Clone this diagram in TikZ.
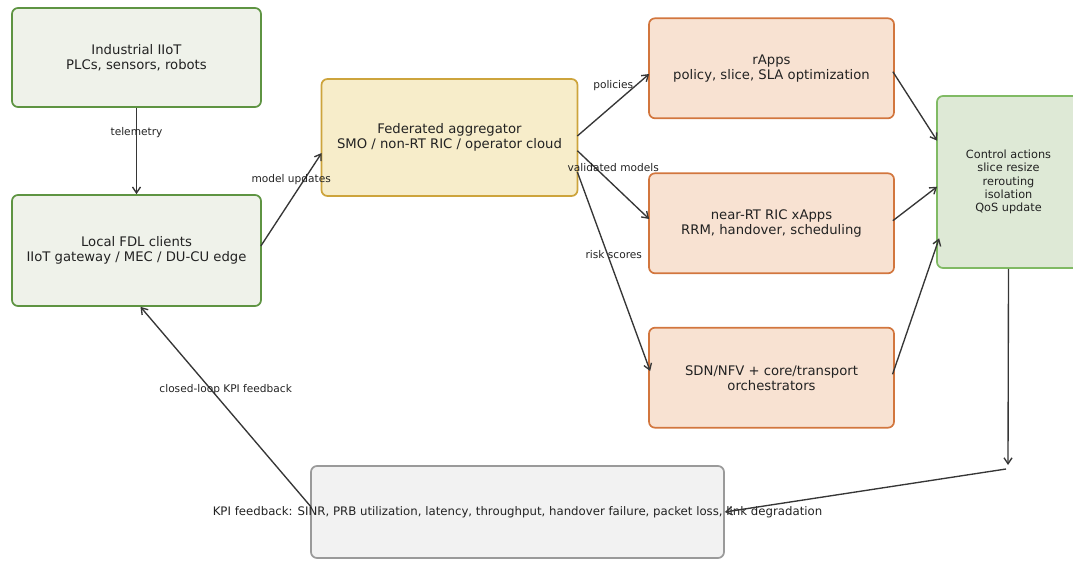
\documentclass[tikz,border=0pt]{standalone}
\usepackage{fontspec}
\setmainfont{DejaVu Sans}
\usetikzlibrary{arrows.meta,calc}
\definecolor{txt}{HTML}{222222}
\definecolor{arr}{HTML}{363636}
\definecolor{gfill}{HTML}{EFF2EA}
\definecolor{gdraw}{HTML}{5E9442}
\definecolor{yfill}{HTML}{F7EDCA}
\definecolor{ydraw}{HTML}{CDA43C}
\definecolor{ofill}{HTML}{F8E2D2}
\definecolor{odraw}{HTML}{D2763E}
\definecolor{cfill}{HTML}{DEE9D6}
\definecolor{cdraw}{HTML}{80BA64}
\definecolor{kfill}{HTML}{F2F2F2}
\definecolor{kdraw}{HTML}{9A9A9A}
\tikzset{
  box/.style={rectangle, rounded corners=6pt, line width=1.7pt, align=center, text=txt,
    font=\fontsize{13.2}{15}\selectfont, inner sep=0pt},
  gbox/.style={box, fill=gfill, draw=gdraw},
  ybox/.style={box, fill=yfill, draw=ydraw},
  obox/.style={box, fill=ofill, draw=odraw},
  cbox/.style={box, fill=cfill, draw=cdraw, font=\fontsize{11.3}{13.2}\selectfont},
  kbox/.style={box, fill=kfill, draw=kdraw},
  conn/.style={draw=arr, line width=1.35pt, -{Straight Barb[length=6pt,width=8pt]}},
  lbl/.style={text=txt, font=\fontsize{10.6}{12}\selectfont, inner sep=0pt},
}
\begin{document}
\begin{tikzpicture}[x=1pt,y=1pt]
\useasboundingbox (0,0) rectangle (1073,560);
\clip (0,0) rectangle (1073,560);
% boxes
\node[gbox, minimum width=249pt, minimum height=99pt] (iiot) at (136.5,502.5) {Industrial IIoT\\PLCs, sensors, robots};
\node[gbox, minimum width=249pt, minimum height=111pt] (fdl) at (136.5,309.5) {Local FDL clients\\IIoT gateway / MEC / DU-CU edge};
\node[ybox, minimum width=256pt, minimum height=117pt] (agg) at (449.5,422.5) {Federated aggregator\\SMO / non-RT RIC / operator cloud};
\node[obox, minimum width=245pt, minimum height=100pt] (rapps) at (771.5,491.7) {rApps\\policy, slice, SLA optimization};
\node[obox, minimum width=245pt, minimum height=100pt] (xapps) at (771.5,336.7) {near-RT RIC xApps\\RRM, handover, scheduling};
\node[obox, minimum width=245pt, minimum height=100pt] (sdn) at (771.5,182.3) {SDN/NFV + core/transport\\orchestrators};
\node[cbox, minimum width=143pt, minimum height=172pt] (ctrl) at (1008.5,378) {Control actions\\slice resize\\rerouting\\isolation\\QoS update};
\node[kbox, minimum width=413pt, minimum height=92pt] (kpi) at (517.5,48) {};
\node[text=txt, font=\fontsize{11.75}{13}\selectfont, inner sep=0pt] (kpitxt) at (kpi.center) {KPI feedback: SINR, PRB utilization, latency, throughput, handover failure, packet loss, link degradation};
\coordinate (fb) at (1007,93);
% connectors
\draw[conn] (iiot.south) -- node[lbl, pos=0.5, yshift=18pt] {telemetry} (fdl.north);
\draw[conn] ($(fdl.east)+(-1,4.5)$) -- node[lbl, pos=0.5, yshift=19.5pt] {model updates} ($(agg.west)+(1,-15.5)$);
\draw[conn] ($(agg.east)+(-1,1.5)$) -- node[lbl, pos=0.5, yshift=19pt] {policies} ($(rapps.west)+(1,-5.7)$);
\draw[conn] ($(agg.east)+(-1,-13.2)$) -- node[lbl, pos=0.5, yshift=17.5pt] {validated models} ($(xapps.west)+(1,4.3)$);
\draw[conn] ($(agg.east)+(-1,-34.5)$) -- node[lbl, pos=0.5, yshift=16.5pt] {risk scores} ($(sdn.west)+(2,6.7)$);
\draw[conn] ($(rapps.east)+(-2,-3.4)$) -- ($(ctrl.west)+(1,41.3)$);
\draw[conn] ($(xapps.east)+(-2,2.6)$) -- ($(ctrl.west)+(1,-4.7)$);
\draw[conn] ($(sdn.east)+(-2.3,3.4)$) -- ($(ctrl.west)+(3,-56.3)$);
\draw[conn] (ctrl.south) -- ($(fb)+(1,2)$);
\draw[conn] ($(fb)+(-1,-2)$) -- (kpi.east);
\draw[conn] ($(kpi.west)+(0.7,5.3)$) -- node[lbl, pos=0.5, yshift=17.4pt] {closed-loop KPI feedback} ($(fdl.south)+(4,0)$);
\end{tikzpicture}
\end{document}
